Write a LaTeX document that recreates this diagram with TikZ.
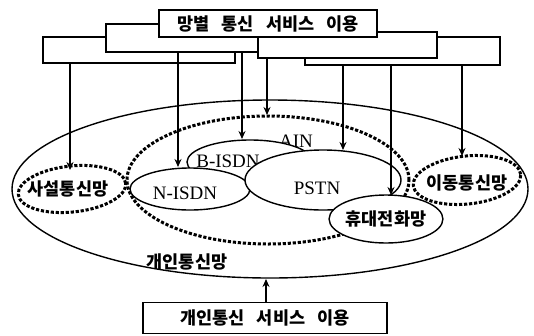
\documentclass[tikz,border=0pt]{standalone}
\usepackage{fontspec}
\setmainfont{Liberation Serif}
\newfontfamily\kr{Noto Sans CJK KR}
\usetikzlibrary{shapes.geometric,arrows.meta}
\tikzset{
  panel/.style={draw, fill=white, line width=1.6pt, inner sep=0pt},
  net/.style={draw, fill=white, ellipse, line width=1.4pt, inner sep=0pt},
  zone/.style={draw, ellipse, line width=3pt, dash pattern=on 3.2pt off 1.8pt, inner sep=0pt},
  arr/.style={-{Stealth[length=8pt,width=7pt]}, line width=1.3pt},
  kr/.style={font=\kr\bfseries\fontsize{17.5}{17.5}\selectfont},
  lat/.style={font=\fontsize{19}{19}\selectfont},
}
\newcommand{\wgap}{\hspace{0.7em}}
\begin{document}
\begin{tikzpicture}[x=1pt,y=-1pt]
\useasboundingbox (0,0) rectangle (534,335);
% outer network
\node[draw, ellipse, line width=1.4pt, minimum width=516pt, minimum height=178pt, inner sep=0pt] (outer) at (270,189) {};
\node[kr, anchor=center] (outerlbl) at (187,262) {개인통신망};
% AIN zone
\node[zone, minimum width=282pt, minimum height=128pt] (ain) at (268,180) {};
\node[lat] (ainlbl) at (296,141) {AIN};
% side zones
\node[zone, minimum width=108pt, minimum height=46pt, rotate=6] (priv) at (72,189) {};
\node[kr] (privlbl) at (68,189) {사설통신망};
\node[zone, minimum width=108pt, minimum height=48pt, rotate=6] (mob) at (467,180) {};
\node[kr] (moblbl) at (467,183) {이동통신망};
% inner networks
\node[net, minimum width=126pt, minimum height=44pt] (bisdn) at (250,162) {};
\node[lat] (bisdnlbl) at (228,161) {B-ISDN};
\node[net, minimum width=120pt, minimum height=42pt] (nisdn) at (190,189) {};
\node[lat] (nisdnlbl) at (185,193) {N-ISDN};
\node[net, minimum width=156pt, minimum height=60pt] (pstn) at (323,180) {};
\node[lat] (pstnlbl) at (317,188) {PSTN};
\node[net, minimum width=112pt, minimum height=48pt, kr] (cell) at (386,219) {휴대전화망};
% top boxes
\node[panel, minimum width=192pt, minimum height=26pt] (boxA) at (139,50) {};
\node[panel, minimum width=194pt, minimum height=28pt] (boxB) at (203,38) {};
\node[panel, minimum width=195pt, minimum height=28pt] (boxD) at (402.5,51) {};
\node[panel, minimum width=179pt, minimum height=26pt] (boxC) at (347.5,45) {};
\node[panel, minimum width=218pt, minimum height=27pt, kr] (top) at (268,23.5) {망별\wgap 통신\wgap 서비스\wgap 이용};
% bottom box
\node[panel, minimum width=244pt, minimum height=31pt, kr] (bottom) at (265,318) {개인통신\wgap 서비스\wgap 이용};
% arrow tips
\coordinate (t1) at (70,170);
\coordinate (t2) at (178,167);
\coordinate (t3) at (242,139);
\coordinate (t4) at (267,115);
\coordinate (t5) at (343,150);
\coordinate (t6) at (391,195);
\coordinate (t7) at (462,156);
\coordinate (t8) at (266,279);
\draw[arr] (t1 |- boxA.south) -- (t1);
\draw[arr] (t2 |- boxB.south) -- (t2);
\draw[arr] (t3 |- boxB.south) -- (t3);
\draw[arr] (t4 |- boxC.south) -- (t4);
\draw[arr] (t5 |- boxD.south) -- (t5);
\draw[arr] (t6 |- boxD.south) -- (t6);
\draw[arr] (t7 |- boxD.south) -- (t7);
\draw[arr] (t8 |- bottom.north) -- (t8);
\end{tikzpicture}
\end{document}
